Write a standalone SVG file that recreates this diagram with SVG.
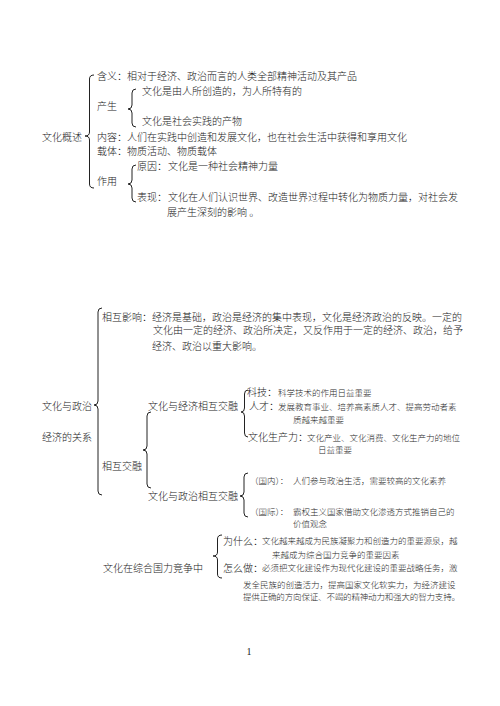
<svg xmlns="http://www.w3.org/2000/svg" width="500" height="706" viewBox="0 0 500 706">
<style>
text{font-family:"Noto Sans CJK SC","Noto Sans CJK JP",sans-serif;font-size:10px;font-weight:300;fill:#1a1a1a}
.s{font-size:8.5px;fill:#2a2a2a}
.b{fill:none;stroke:#222;stroke-width:1}
.pn{font-family:"Liberation Serif",serif;font-size:10px;font-weight:400}
</style>
<rect width="500" height="706" fill="#fff"/>
<g id="connectors">
<path class="b" d="M94 75 Q89.5 75 89.5 79 L89.5 132 Q89.5 136 85 136 Q89.5 136 89.5 140 L89.5 184 Q89.5 188 94 188"/>
<path class="b" d="M136 89 Q132 89 132 93 L132 105 Q132 109 128 109 Q132 109 132 113 L132 123 Q132 127 136 127"/>
<path class="b" d="M136 165 Q132 165 132 169 L132 180 Q132 184 128 184 Q132 184 132 188 L132 198 Q132 202 136 202"/>
<path class="b" d="M102 308 Q98 308 98 312 L98 401 Q98 405 94 405 Q98 405 98 409 L98 491 Q98 495 102 495"/>
<path class="b" d="M151 412 Q147 412 147 416 L147 446 Q147 450 143 450 Q147 450 147 454 L147 484 Q147 488 151 488"/>
<path class="b" d="M248 390 Q244.5 390 244.5 394 L244.5 408 Q244.5 412 241 412 Q244.5 412 244.5 416 L244.5 433 Q244.5 437 248 437"/>
<path class="b" d="M248 473 Q244 473 244 477 L244 492 Q244 496 240 496 Q244 496 244 500 L244 513 Q244 517 248 517"/>
<path class="b" d="M222 535 Q217.5 535 217.5 539 L217.5 552 Q217.5 556 213 556 Q217.5 556 217.5 560 L217.5 574 Q217.5 578 222 578"/>
</g>
<g id="node-wenhuagaishu"><text x="42" y="140.5">文化概述</text></g>
<g id="node-hanyi"><text x="97" y="80">含义：相对于经济、政治而言的人类全部精神活动及其产品</text></g>
<g id="node-chansheng"><text x="97" y="110">产生</text></g>
<g id="node-chansheng-1"><text x="142" y="95">文化是由人所创造的，为人所特有的</text></g>
<g id="node-chansheng-2"><text x="142" y="125">文化是社会实践的产物</text></g>
<g id="node-neirong"><text x="97" y="140.5">内容：人们在实践中创造和发展文化，也在社会生活中获得和享用文化</text></g>
<g id="node-zaiti"><text x="97" y="155">载体：物质活动、物质载体</text></g>
<g id="node-zuoyong"><text x="97" y="185">作用</text></g>
<g id="node-yuanyin"><text x="137" y="170">原因：</text><text x="168" y="170">文化是一种社会精神力量</text></g>
<g id="node-biaoxian"><text x="137" y="200.5">表现：</text><text x="168" y="200.5">文化在人们认识世界、改造世界过程中转化为物质力量，对社会发</text><text x="167" y="216">展产生深刻的影响 。</text></g>

<g id="node-guanxi"><text x="42" y="409.5">文化与政治</text><text x="42" y="440.5">经济的关系</text></g>
<g id="node-xianghuyingxiang"><text x="102" y="320.5">相互影响：经济是基础，政治是经济的集中表现，文化是经济政治的反映。一定的</text><text x="153" y="334">文化由一定的经济、政治所决定，又反作用于一定的经济、政治，给予</text><text x="152" y="349.5">经济、政治以重大影响。</text></g>
<g id="node-xianghujiaorong"><text x="102" y="469.5">相互交融</text></g>
<g id="node-jingji"><text x="148" y="409.5">文化与经济相互交融</text></g>
<g id="node-keji"><text x="247" y="395.5">科技：<tspan class="s" x="278">科学技术的作用日益重要</tspan></text></g>
<g id="node-rencai"><text x="249" y="409.5">人才：<tspan class="s" x="278">发展教育事业、培养高素质人才、提高劳动者素</tspan></text><text class="s" x="293" y="423">质越来越重要</text></g>
<g id="node-shengchanli"><text x="248" y="440.5">文化生产力：<tspan class="s" x="307">文化产业、文化消费、文化生产力的地位</tspan></text><text class="s" x="318" y="453">日益重要</text></g>
<g id="node-zhengzhi"><text x="148" y="499.5">文化与政治相互交融</text></g>
<g id="node-guonei"><text class="s" x="250" y="484">（国内）：</text><text class="s" x="293" y="484">人们参与政治生活，需要较高的文化素养</text></g>
<g id="node-guoji"><text class="s" x="250" y="515">（国际）：</text><text class="s" x="293" y="515">霸权主义国家借助文化渗透方式推销自己的</text><text class="s" x="293" y="527">价值观念</text></g>

<g id="node-guoli"><text x="103" y="571.5">文化在综合国力竞争中</text></g>
<g id="node-weishenme"><text x="223" y="544.5">为什么：</text><text class="s" x="262" y="544">文化越来越成为民族凝聚力和创造力的重要源泉，越</text><text class="s" x="272" y="558">来越成为综合国力竞争的重要因素</text></g>
<g id="node-zenmezuo"><text x="223" y="571.5">怎么做：</text><text class="s" x="262" y="571">必须把文化建设作为现代化建设的重要战略任务，激</text><text class="s" x="243" y="588">发全民族的创造活力，提高国家文化软实力，为经济建设</text><text class="s" x="243" y="600" textLength="217">提供正确的方向保证、不竭的精神动力和强大的智力支持。</text></g>
<text class="pn" x="249" y="655" text-anchor="middle">1</text>
</svg>
